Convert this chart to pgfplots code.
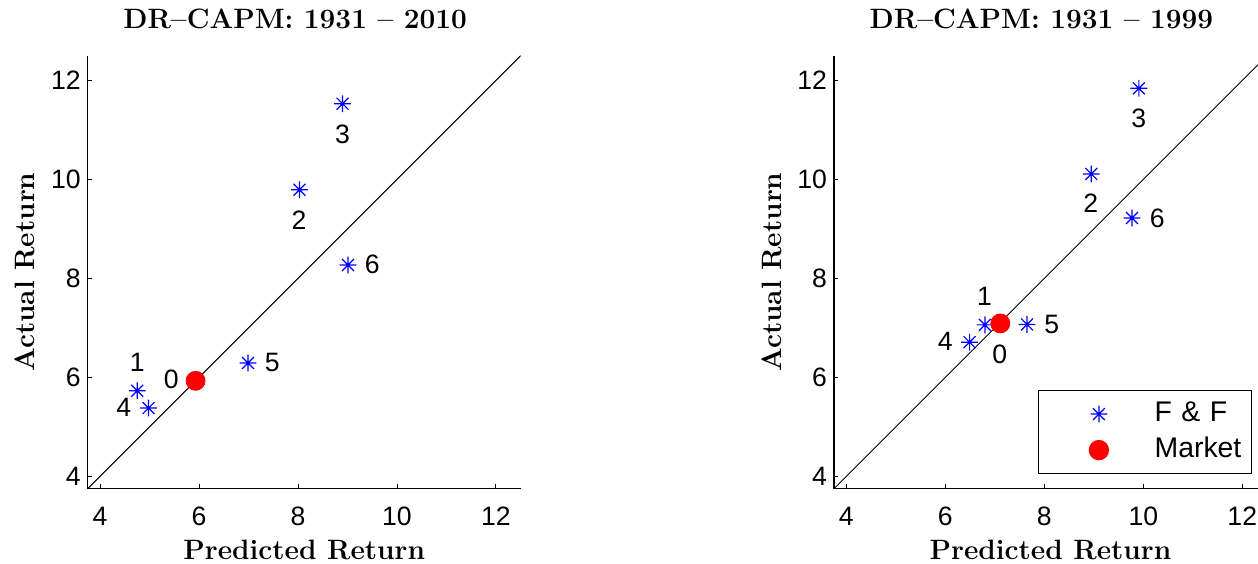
\documentclass[border=0pt]{standalone}
\usepackage{fontspec}
\setsansfont{Liberation Sans}
\usepackage{pgfplots}
\usepackage{pgfplotstable}
\pgfplotsset{compat=1.18}

\newcommand\tk{\sffamily\fontsize{13.3}{16}\selectfont}
\newcommand\legfont{\sffamily\fontsize{14.2}{17}\selectfont}
\newcommand\ttl{\rmfamily\bfseries\fontsize{14}{17}\selectfont}

\pgfdeclareplotmark{mlast}{%
  \pgfpathmoveto{\pgfqpoint{0pt}{\pgfplotmarksize}}%
  \pgfpathlineto{\pgfqpoint{0pt}{-\pgfplotmarksize}}%
  \pgfpathmoveto{\pgfqpoint{\pgfplotmarksize}{0pt}}%
  \pgfpathlineto{\pgfqpoint{-\pgfplotmarksize}{0pt}}%
  \pgfpathmoveto{\pgfqpoint{.7071\pgfplotmarksize}{.7071\pgfplotmarksize}}%
  \pgfpathlineto{\pgfqpoint{-.7071\pgfplotmarksize}{-.7071\pgfplotmarksize}}%
  \pgfpathmoveto{\pgfqpoint{-.7071\pgfplotmarksize}{.7071\pgfplotmarksize}}%
  \pgfpathlineto{\pgfqpoint{.7071\pgfplotmarksize}{-.7071\pgfplotmarksize}}%
  \pgfusepathqstroke}

\pgfplotstableread{
x y
4.75 5.73
8.03 9.79
8.90 11.53
4.98 5.38
6.99 6.29
9.01 8.27
}\ffA
\pgfplotstableread{
x y
5.93 5.93
}\mkA
\pgfplotstableread{
x y l
4.75 6.30 1
8.02 9.17 2
8.90 10.91 3
4.48 5.40 4
7.48 6.30 5
9.50 8.28 6
5.44 5.95 0
}\labA

\pgfplotstableread{
x y
6.80 7.06
8.95 10.11
9.91 11.84
6.49 6.71
7.65 7.07
9.77 9.22
}\ffB
\pgfplotstableread{
x y
7.11 7.09
}\mkB
\pgfplotstableread{
x y l
6.79 7.64 1
8.94 9.51 2
9.91 11.24 3
6.00 6.72 4
8.15 7.06 5
10.28 9.22 6
7.10 6.46 0
}\labB

\pgfplotsset{
  mlstyle/.style={
    scale only axis, width=216.5pt, height=216.5pt,
    xmin=3.75, xmax=12.5, ymin=3.75, ymax=12.5,
    axis x line*=bottom, axis y line*=left,
    axis line style={line width=0.6pt, black},
    tick align=inside, major tick length=2.2pt,
    tick style={line width=0.5pt, black},
    xtick={4,6,8,10,12}, ytick={4,6,8,10,12},
    ticklabel style={font=\tk, /pgf/number format/assume math mode=true},
    xticklabel style={anchor=base, yshift=-18.15pt},
    title style={at={(axis description cs:0.479,1.0358)}, anchor=base, font=\ttl},
    xlabel style={at={(axis description cs:0.5,-0.1624)}, anchor=base, font=\ttl},
    ylabel style={at={(axis description cs:-0.1224,0.5)}, anchor=base, font=\ttl},
    xlabel={Predicted Return}, ylabel={Actual Return},
  },
  ffstyle/.style={only marks, mark=mlast, mark size=4.2pt, blue, line width=0.6pt,
    legend image code/.code={\path[draw=none,fill=none] (0pt,-3pt) rectangle (55pt,3pt);
      \draw[mark repeat=1,##1] plot coordinates {(27.15pt,0pt)};}},
  mkstyle/.style={only marks, mark=*, mark size=4.75pt, red, mark options={draw=red, fill=red},
    legend image code/.code={\path[draw=none,fill=none] (0pt,-3pt) rectangle (55pt,3pt);
      \draw[mark repeat=1,##1] plot coordinates {(27.15pt,0pt)};}},
  labstyle/.style={only marks, mark=none, forget plot, nodes near coords,
    point meta=explicit symbolic,
    nodes near coords style={anchor=center, font=\tk, inner sep=0pt, black}},
  diagstyle/.style={black, line width=0.5pt, forget plot, mark=none},
}

\begin{document}
\begin{tikzpicture}
\begin{axis}[mlstyle, at={(43.85pt,37.15pt)}, anchor=south west,
  title={DR--CAPM: 1931 -- 2010}]
  \addplot[diagstyle] coordinates {(3.75,3.75) (12.5,12.5)};
  \addplot[ffstyle] table[x=x,y=y] {\ffA};
  \addplot[mkstyle] table[x=x,y=y] {\mkA};
  \addplot[labstyle] table[x=x,y=y,meta=l] {\labA};
\end{axis}
\begin{axis}[mlstyle, at={(417pt,37.15pt)}, anchor=south west,
  title={DR--CAPM: 1931 -- 1999},
  legend cell align=left,
  legend style={at={(axis description cs:0.966,0.0333)}, anchor=south east,
    draw=black, line width=0.7pt, inner xsep=3pt, inner ysep=5pt,
    font=\legfont, row sep=4.5pt,
    nodes={inner sep=0pt, text height=10.5pt, text depth=3pt},
    /tikz/every even column/.append style={text width=45.5pt}}]
  \addplot[diagstyle] coordinates {(3.75,3.75) (12.5,12.5)};
  \addplot[ffstyle] table[x=x,y=y] {\ffB};
  \addlegendentry{F \& F}
  \addplot[mkstyle] table[x=x,y=y] {\mkB};
  \addlegendentry{Market}
  \addplot[labstyle] table[x=x,y=y,meta=l] {\labB};
\end{axis}
\pgfresetboundingbox
\path[use as bounding box] (0,0) rectangle (629pt,281.5pt);
\end{tikzpicture}
\end{document}
